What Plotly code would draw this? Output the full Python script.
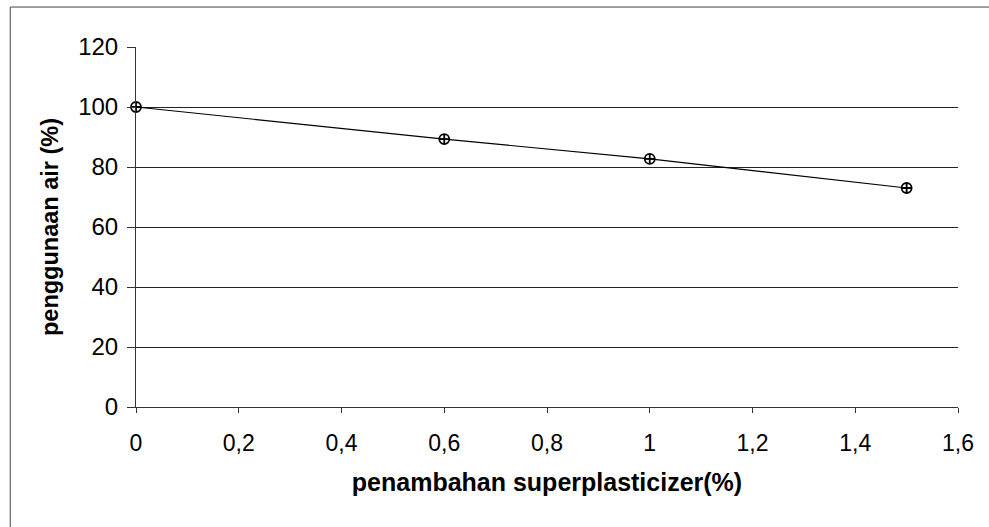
import plotly.graph_objects as go

superplasticizer = [0, 0.6, 1.0, 1.5]
penggunaan_air = [100, 89.3, 82.7, 73]
x_ticks = [0, 0.2, 0.4, 0.6, 0.8, 1.0, 1.2, 1.4, 1.6]
y_ticks = [0, 20, 40, 60, 80, 100, 120]

fig = go.Figure()
fig.add_trace(go.Scatter(
    x=superplasticizer, y=penggunaan_air, mode="lines+markers",
    line=dict(color="black", width=1.2),
    marker=dict(symbol="circle-cross-open", size=10, color="black", line=dict(width=1.8, color="black")),
    showlegend=False, cliponaxis=False,
))

fig.update_layout(
    width=989, height=527,
    margin=dict(l=136, r=31, t=47, b=120),
    paper_bgcolor="white", plot_bgcolor="white",
    separators=",.",
    font=dict(family="Liberation Sans, Arial", size=22, color="black"),
    xaxis=dict(range=[0, 1.6], tickvals=x_ticks, showgrid=False, zeroline=False,
               showline=True, linecolor="#333", linewidth=1,
               ticks="outside", ticklen=5, tickcolor="#333", ticklabelstandoff=10,
               tickfont=dict(size=23),
               title=dict(text="<b>penambahan superplasticizer(%)</b>", standoff=18,
                          font=dict(size=25))),
    yaxis=dict(range=[0, 120], tickvals=y_ticks, showgrid=True, gridcolor="#222", gridwidth=1,
               zeroline=False, showline=True, linecolor="#333", linewidth=1,
               ticks="outside", ticklen=8, tickcolor="#333", ticklabelstandoff=4,
               tickfont=dict(size=24),
               title=dict(text="<b>penggunaan air (%)</b>", standoff=12, font=dict(size=23.5))),
    shapes=[dict(type="rect", xref="paper", yref="paper", x0=-0.153, x1=1.04, y0=-0.34, y1=1.111,
                 line=dict(color="#444", width=1))],
)

fig.write_html("out.html")
